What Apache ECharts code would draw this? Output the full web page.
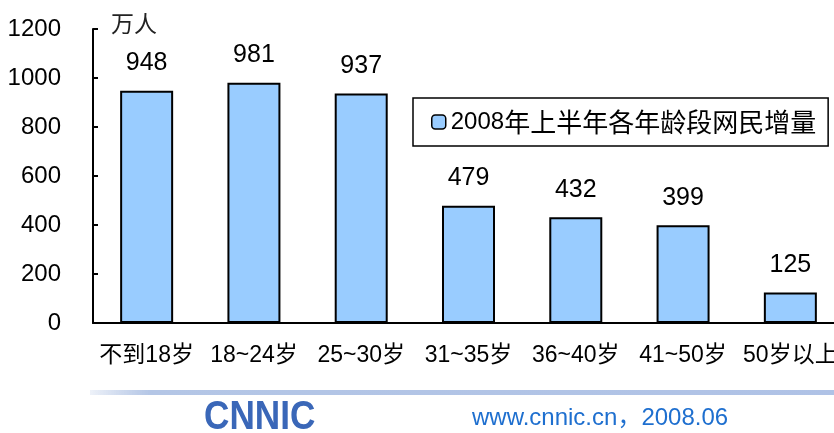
<!DOCTYPE html>
<html>
<head>
<meta charset="utf-8">
<script src="https://cdn.jsdelivr.net/npm/echarts@6/dist/echarts.min.js"></script>
<style>
  html, body { margin: 0; padding: 0; background: #fff; overflow: hidden; }
  /* the category axis runs a little past the right edge of the window */
  #chart { width: 844px; height: 433px; }
</style>
</head>
<body>
<div id="chart"></div>
<script>
// 年龄段
const categories = ["不到18岁", "18~24岁", "25~30岁", "31~35岁", "36~40岁", "41~50岁", "50岁以上"];
// 2008年上半年各年龄段网民增量（万人）
const seriesName = "2008年上半年各年龄段网民增量";
const increase = [948, 981, 937, 479, 432, 399, 125];
const yTicks = [0, 200, 400, 600, 800, 1000, 1200];
const unitName = "万人";
const sourceText = "www.cnnic.cn，2008.06";
const logoText = "CNNIC";

const FONT = "'Liberation Sans', Arial, 'Noto Sans CJK SC', sans-serif";

const myChart = echarts.init(document.getElementById("chart"));
myChart.setOption({
  animation: false,
  grid: {
    left: 93,
    top: 29,
    right: 0,
    bottom: 110,
    containLabel: false,
  },
  legend: {
    data: [seriesName],
    left: 413,
    top: 98,
    padding: [11, 12, 11, 18],
    itemWidth: 14,
    itemHeight: 14,
    borderColor: "#000",
    borderWidth: 1.5,
    itemStyle: { borderWidth: 1.5 },
    formatter: "{a|2008}{b|年上半年各年龄段网民增量}",
    textStyle: {
      rich: {
        a: { fontSize: 24, fontFamily: FONT, color: "#000" },
        b: { fontSize: 26, fontFamily: "'Noto Sans CJK SC', sans-serif", color: "#000" },
      },
    },
  },
  xAxis: {
    type: "category",
    data: categories,
    axisLine: { lineStyle: { color: "#000", width: 2 } },
    axisTick: { inside: true, length: 6, lineStyle: { color: "#000", width: 2 } },
    axisLabel: {
      color: "#000",
      fontSize: 23,
      fontFamily: FONT,
      margin: 21,
      interval: 0,
    },
  },
  yAxis: {
    type: "value",
    min: yTicks[0],
    max: yTicks[yTicks.length - 1],
    interval: 200,
    name: unitName,
    nameLocation: "end",
    nameGap: 6,
    nameTextStyle: {
      color: "#222",
      fontSize: 23,
      fontFamily: "'Noto Sans CJK SC', sans-serif",
      align: "left",
      verticalAlign: "middle",
      padding: [0, 0, 0, 18],
    },
    axisLine: { show: true, lineStyle: { color: "#000", width: 2 } },
    axisTick: { show: true, inside: true, length: 5, lineStyle: { color: "#000", width: 2 } },
    splitLine: { show: false },
    axisLabel: {
      color: "#000",
      fontSize: 24,
      fontFamily: FONT,
      margin: 32,
      formatter: (v) => String(v),
    },
  },
  series: [
    {
      name: seriesName,
      type: "bar",
      data: increase,
      barWidth: 53,
      itemStyle: {
        color: "#99CCFF",
        borderColor: "#000",
        borderWidth: 2,
      },
      label: {
        show: true,
        position: "top",
        distance: 15,
        color: "#000",
        fontSize: 25,
        fontFamily: FONT,
      },
    },
  ],
  graphic: [
    {
      type: "rect",
      shape: { x: 90, y: 390, width: 754, height: 5 },
      style: {
        fill: new echarts.graphic.LinearGradient(0, 0, 1, 0, [
          { offset: 0, color: "rgba(170,190,225,0.2)" },
          { offset: 0.08, color: "#B4C6E6" },
          { offset: 1, color: "#AFC2E6" },
        ]),
      },
      silent: true,
    },
    {
      type: "text",
      x: 204,
      y: 418,
      scaleX: 0.88,
      style: {
        text: logoText,
        fill: "#3A67B8",
        fontSize: 40,
        fontWeight: "bold",
        fontFamily: FONT,
        verticalAlign: "middle",
      },
      silent: true,
    },
    {
      type: "text",
      x: 472,
      y: 418,
      style: {
        text: sourceText,
        fill: "#1E6FCF",
        fontSize: 24,
        fontFamily: FONT,
        verticalAlign: "middle",
      },
      silent: true,
    },
  ],
});
</script>
</body>
</html>
